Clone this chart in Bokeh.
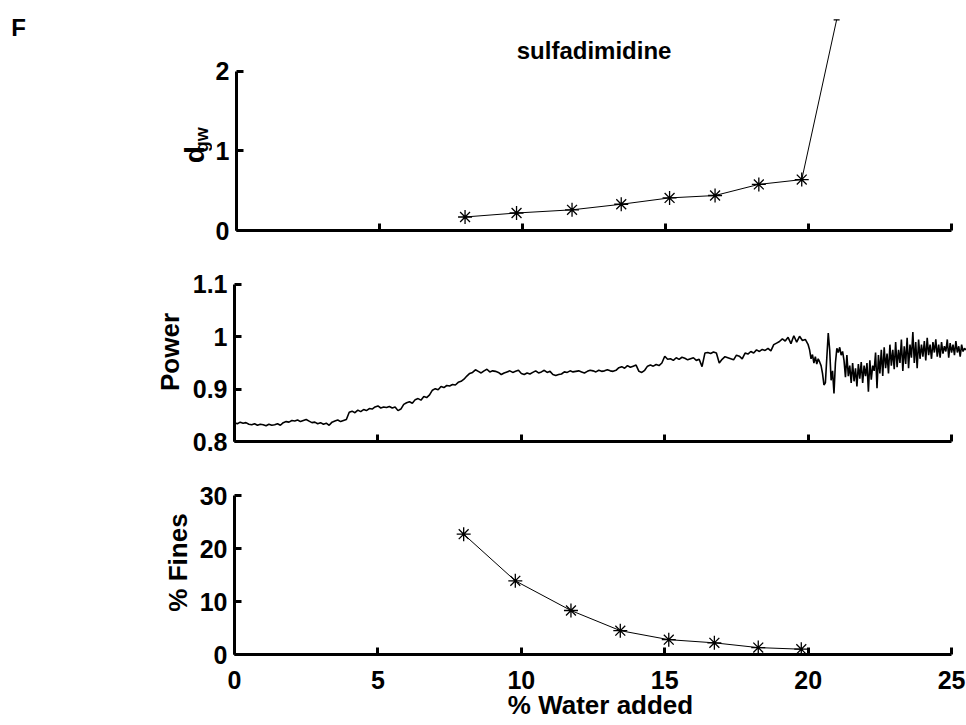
import math
from bokeh.plotting import figure
from bokeh.layouts import column, row
from bokeh.models import FixedTicker, Range1d, Label, CustomLabelingPolicy
from bokeh.embed import file_html
from bokeh.resources import INLINE

# ---------------- data ----------------
water_pct = [7.99, 9.79, 11.73, 13.45, 15.14, 16.73, 18.26, 19.76]
dgw = [0.17, 0.22, 0.26, 0.33, 0.41, 0.44, 0.58, 0.64]
dgw_last_x = 20.98          # next (off-scale) point of the d_gw curve
dgw_last = 2.65
fines = [22.7, 13.9, 8.3, 4.5, 2.8, 2.2, 1.3, 1.0]

# power trace, 0 - 20 % water, one sample per 0.1 %
power_step_a = 0.1
power_a = [
    0.836, 0.834, 0.837, 0.835, 0.836, 0.833, 0.832, 0.834, 0.831, 0.833,
    0.832, 0.830, 0.833, 0.831, 0.832, 0.834, 0.831, 0.836, 0.838, 0.837,
    0.840, 0.839, 0.841, 0.838, 0.840, 0.842, 0.839, 0.836, 0.837, 0.834,
    0.836, 0.833, 0.835, 0.831, 0.837, 0.839, 0.841, 0.838, 0.840, 0.842,
    0.856, 0.858, 0.855, 0.860, 0.857, 0.861, 0.859, 0.863, 0.862, 0.866,
    0.868, 0.864, 0.866, 0.865, 0.867, 0.864, 0.866, 0.859, 0.862, 0.871,
    0.874, 0.876, 0.873, 0.880, 0.882, 0.879, 0.886, 0.884, 0.889, 0.898,
    0.901, 0.899, 0.905, 0.903, 0.907, 0.906, 0.909, 0.908, 0.913, 0.915,
    0.919, 0.925, 0.930, 0.932, 0.937, 0.934, 0.931, 0.935, 0.938, 0.933,
    0.935, 0.934, 0.932, 0.928, 0.931, 0.933, 0.935, 0.932, 0.934, 0.936,
    0.930, 0.928, 0.931, 0.929, 0.932, 0.935, 0.931, 0.933, 0.936, 0.932,
    0.934, 0.928, 0.926, 0.928, 0.929, 0.933, 0.932, 0.935, 0.933, 0.934,
    0.935, 0.933, 0.931, 0.934, 0.936, 0.935, 0.933, 0.936, 0.934, 0.935,
    0.937, 0.935, 0.934, 0.936, 0.941, 0.943, 0.940, 0.945, 0.942, 0.944,
    0.946, 0.934, 0.932, 0.936, 0.944, 0.946, 0.944, 0.947, 0.945, 0.950,
    0.963, 0.957, 0.958, 0.955, 0.960, 0.957, 0.961, 0.959, 0.956, 0.958,
    0.960, 0.955, 0.957, 0.943, 0.969, 0.970, 0.968, 0.971, 0.969, 0.950,
    0.957, 0.962, 0.960, 0.958, 0.956, 0.965, 0.963, 0.958, 0.969, 0.967,
    0.972, 0.969, 0.975, 0.972, 0.976, 0.974, 0.978, 0.973, 0.985, 0.988,
    0.991, 0.996, 0.992, 0.999, 0.987, 1.002, 0.990, 1.001, 0.993, 0.995,
    0.985,
]
# power trace, 20.05 - 25.5 % water (noisy part), one sample per 0.05 %
power_start_b = 20.05
power_step_b = 0.05
power_b = [
    0.975, 0.958, 0.966, 0.950, 0.962, 0.948, 0.958, 0.952, 0.945, 0.930,
    0.908, 0.912, 0.960, 1.007, 0.975, 0.917, 0.935, 0.892, 0.950, 0.978,
    0.970, 0.980, 0.965, 0.972, 0.955, 0.923, 0.965, 0.925, 0.945, 0.912,
    0.950, 0.915, 0.940, 0.905, 0.948, 0.920, 0.952, 0.912, 0.945, 0.925,
    0.950, 0.895, 0.955, 0.918, 0.945, 0.935, 0.970, 0.902, 0.965, 0.930,
    0.975, 0.925, 0.980, 0.940, 0.968, 0.930, 0.985, 0.945, 0.975, 0.938,
    0.990, 0.942, 0.975, 0.950, 0.995, 0.935, 0.982, 0.948, 0.998, 0.940,
    0.985, 0.960, 1.009, 0.950, 0.990, 0.940, 0.995, 0.958, 0.985, 0.962,
    0.992, 0.955, 0.998, 0.965, 0.985, 0.958, 0.990, 0.970, 0.995, 0.962,
    0.985, 0.960, 0.990, 0.968, 0.982, 0.972, 0.995, 0.960, 0.988, 0.970,
    0.985, 0.965, 0.992, 0.970, 0.982, 0.962, 0.985, 0.972, 0.978, 0.975,
]
power_x = ([round(i * power_step_a, 3) for i in range(len(power_a))]
           + [round(power_start_b + i * power_step_b, 3) for i in range(len(power_b))])
power = power_a + power_b

x_ticks = [0, 5, 10, 15, 20, 25]
dgw_ticks = [0, 1, 2]
power_ticks = [0.8, 0.9, 1.0, 1.1]
power_tick_labels = {0.8: "0.8", 0.9: "0.9", 1.0: "1", 1.1: "1.1"}
fines_ticks = [0, 10, 20, 30]

title_text = "sulfadimidine"
panel_letter = "F"
x_label = "% Water added"

# ---------------- style ----------------
FONT = "Liberation Sans"
TICK_FS = "25px"
LABEL_FS = "26px"
X_END = 25.52
AX_W = 3
W = 966
LEFT_W = 212

hide_all = CustomLabelingPolicy(code="""
for (const i of Array.from(indices)) indices.unset(i)
return indices
""")


def make_fig(width, height, y_range, left, top, bottom):
    p = figure(width=width, height=height, x_range=Range1d(0, X_END), y_range=y_range,
               output_backend="svg", toolbar_location=None,
               min_border_left=left, min_border_right=0,
               min_border_top=top, min_border_bottom=bottom)
    p.grid.visible = False
    p.outline_line_color = None
    p.background_fill_color = "white"
    p.border_fill_color = "white"
    for ax in (p.xaxis[0], p.yaxis[0]):
        ax.axis_line_width = AX_W
        ax.axis_line_color = "black"
        ax.major_tick_in = 7
        ax.major_tick_out = 0
        ax.major_tick_line_width = AX_W
        ax.major_tick_line_color = "black"
        ax.minor_tick_line_color = None
        ax.major_label_text_font = FONT
        ax.major_label_text_font_style = "bold"
        ax.major_label_text_font_size = TICK_FS
        ax.major_label_text_color = "black"
        ax.axis_label_text_font = FONT
        ax.axis_label_text_font_style = "bold"
        ax.axis_label_text_font_size = LABEL_FS
        ax.axis_label_text_color = "black"
    p.xaxis.ticker = FixedTicker(ticks=x_ticks)
    p.xaxis.bounds = (0, 25)
    p.yaxis.major_label_standoff = 7
    return p


def text_label(p, x, y, text, size, angle=0.0, align="left", baseline="alphabetic"):
    p.add_layout(Label(x=x, y=y, text=text, angle=angle, text_align=align,
                       text_baseline=baseline, text_font=FONT,
                       text_font_style="bold", text_font_size=size, text_color="black"))


# ---- left strip holding panel letter and the d_gw label ----
pl = figure(width=LEFT_W, height=250, x_range=Range1d(0, LEFT_W), y_range=Range1d(0, 250),
            x_axis_type=None, y_axis_type=None, output_backend="svg",
            toolbar_location=None, min_border=0)
pl.grid.visible = False
pl.outline_line_color = None
text_label(pl, 18, 231, panel_letter, "24px", align="center", baseline="middle")
text_label(pl, 194, 86, "d", "28px", angle=math.pi / 2, align="center", baseline="middle")
text_label(pl, 201, 103, "gw", "18px", angle=math.pi / 2, align="center", baseline="middle")

# ---- top panel: d_gw ----
p1 = make_fig(W - LEFT_W, 250, Range1d(0, 2.767), 234 - LEFT_W, 10, 20)
p1.yaxis.ticker = FixedTicker(ticks=dgw_ticks)
p1.yaxis.bounds = (0, 2)
p1.xaxis.major_label_policy = hide_all
p1.xaxis.major_label_text_font_size = "1px"
p1.line(water_pct + [dgw_last_x], dgw + [dgw_last], line_color="black", line_width=1)
p1.scatter(water_pct, dgw, marker="asterisk", size=14, line_color="black", line_width=1.3)
p1.scatter([dgw_last_x], [dgw_last], marker="dash", size=6,
           line_color="black", line_width=1.3)
text_label(p1, 12.5, 2.264, title_text, "24px", align="center")

# ---- middle panel: power ----
p2 = make_fig(W, 210, Range1d(0.8, 1.142), 234, 12, 19)
p2.yaxis.ticker = FixedTicker(ticks=power_ticks)
p2.yaxis.bounds = (0.8, 1.1)
p2.yaxis.major_label_overrides = power_tick_labels
p2.yaxis.axis_label = "Power"
p2.yaxis.axis_label_standoff = 5
p2.xaxis.major_label_policy = hide_all
p2.xaxis.major_label_text_font_size = "1px"
p2.line(power_x, power, line_color="black", line_width=1.6)

# ---- bottom panel: % fines ----
p3 = make_fig(W, 265, Range1d(0, 34.72), 234, 10, 71)
p3.yaxis.ticker = FixedTicker(ticks=fines_ticks)
p3.yaxis.bounds = (0, 30)
p3.yaxis.axis_label = "% Fines"
p3.yaxis.axis_label_standoff = 4
p3.xaxis.axis_label = x_label
p3.xaxis.major_label_standoff = 16
p3.xaxis.axis_label_standoff = -2
p3.line(water_pct, fines, line_color="black", line_width=1)
p3.scatter(water_pct, fines, marker="asterisk", size=14, line_color="black", line_width=1.3)

layout = column(row(pl, p1, spacing=0), p2, p3, spacing=0)
open("out.html", "w").write(file_html(layout, INLINE))
